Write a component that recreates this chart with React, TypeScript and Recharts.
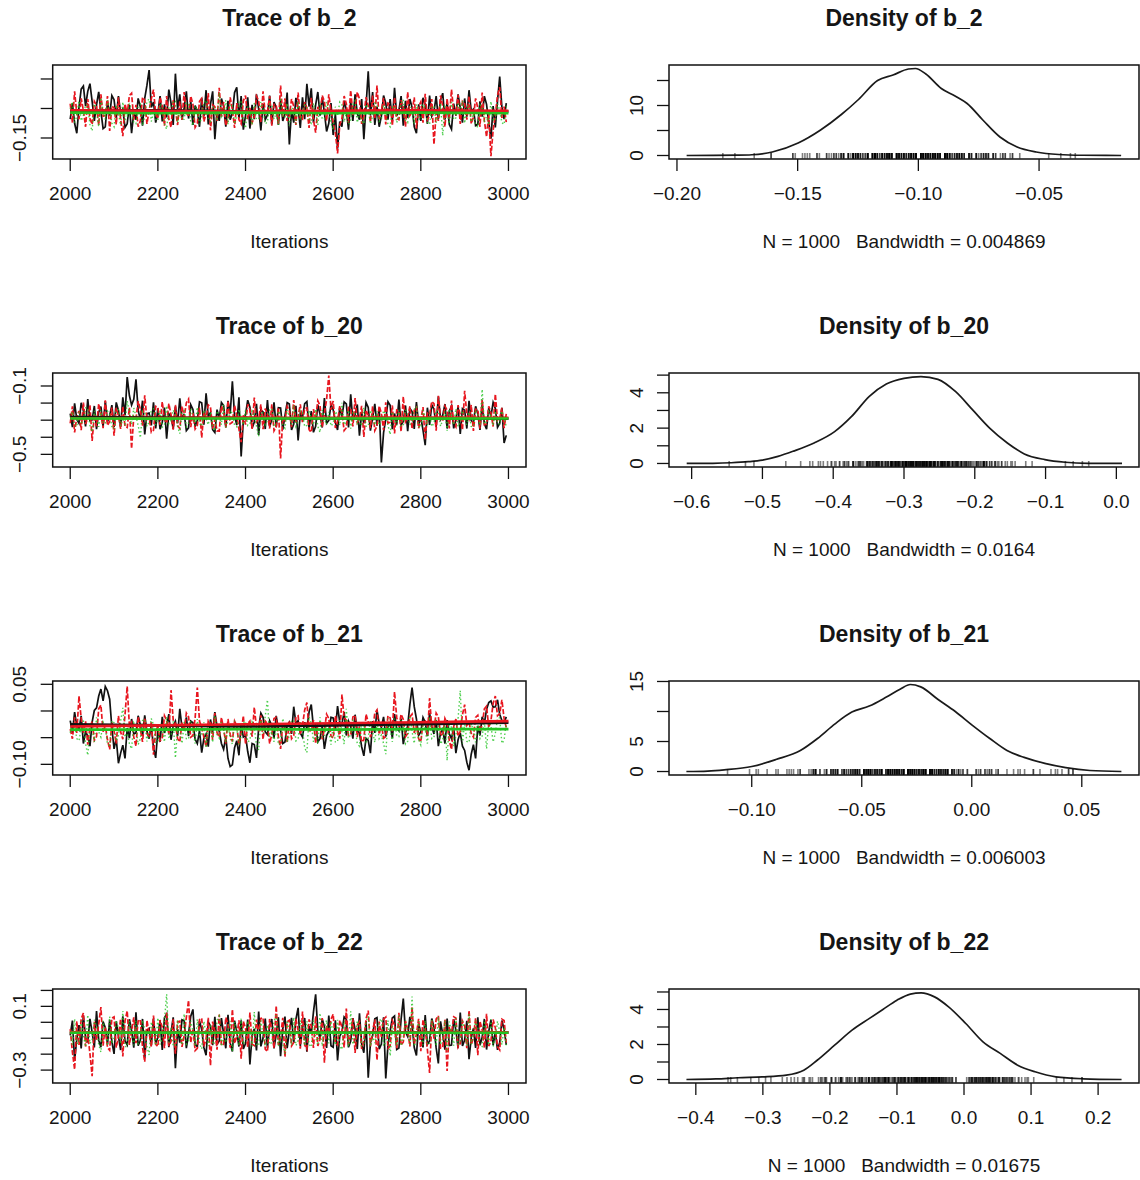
import React from 'react';
import { ComposedChart, Line, Scatter, XAxis, YAxis, ReferenceArea } from 'recharts';

const FONT = '"Liberation Sans", Arial, Helvetica, sans-serif';
const TXT = '#151515';
const BLACK = '#111111';
const RED = '#E8161F';
const GREEN = '#22C322';

// ---------- iterations (categories) ----------
// main samples at 2000, 2010, ... ; mid samples at 2005, 2015, ...
const ITER_START = 2000;
const ITER_STEP = 10;
const ITER_MID_OFFSET = 5;
const smoothIters = [2000, 2200, 2400, 2600, 2800, 3000];
const traceXTicks = [2000, 2200, 2400, 2600, 2800, 3000];
const traceXLabels = ['2000', '2200', '2400', '2600', '2800', '3000'];

// ---------- b_2 ----------
const b2Chain1 = [
  -0.118, -0.125, -0.098, -0.062, -0.071, -0.088, -0.094, -0.105, -0.131, -0.112,
  -0.085, -0.079, -0.101, -0.126, -0.142, -0.119, -0.097, -0.083, -0.035, -0.089,
  -0.108, -0.122, -0.115, -0.091, -0.041, -0.076, -0.099, -0.117, -0.128, -0.104,
  -0.082, -0.069, -0.093, -0.152, -0.121, -0.096, -0.087, -0.108, -0.064, -0.079,
  -0.112, -0.134, -0.118, -0.101, -0.092, -0.111, -0.127, -0.098, -0.085, -0.109,
  -0.161, -0.124, -0.099, -0.081, -0.058, -0.066, -0.094, -0.112, -0.107, -0.125,
  -0.145, -0.168, -0.131, -0.102, -0.088, -0.076, -0.119, -0.152, -0.037, -0.072,
  -0.097, -0.113, -0.091, -0.084, -0.065, -0.103, -0.129, -0.116, -0.098, -0.142,
  -0.121, -0.093, -0.078, -0.105, -0.118, -0.074, -0.089, -0.135, -0.112, -0.099,
  -0.083, -0.069, -0.101, -0.127, -0.114, -0.093, -0.151, -0.132, -0.046, -0.118,
];
const b2Chain1Mid = [
  -0.091, -0.142, -0.067, -0.096, -0.058, -0.121, -0.072, -0.134, -0.089, -0.078,
  -0.116, -0.108, -0.132, -0.094, -0.107, -0.083, -0.129, -0.061, -0.098, -0.124,
  -0.079, -0.093, -0.068, -0.128, -0.101, -0.119, -0.071, -0.088, -0.095, -0.131,
  -0.113, -0.127, -0.071, -0.104, -0.083, -0.131, -0.119, -0.073, -0.117, -0.136,
  -0.081, -0.094, -0.076, -0.137, -0.119, -0.078, -0.089, -0.128, -0.121, -0.073,
  -0.103, -0.082, -0.133, -0.118, -0.097, -0.124, -0.072, -0.081, -0.139, -0.091,
  -0.109, -0.122, -0.087, -0.136, -0.121, -0.108, -0.084, -0.096, -0.112, -0.128,
  -0.131, -0.078, -0.119, -0.122, -0.112, -0.079, -0.087, -0.084, -0.131, -0.093,
  -0.082, -0.126, -0.113, -0.079, -0.086, -0.119, -0.127, -0.092, -0.076, -0.124,
  -0.114, -0.104, -0.129, -0.088, -0.079, -0.124, -0.096, -0.087, -0.098, -0.091,
];
const b2Chain2 = [
  -0.092, -0.071, -0.118, -0.103, -0.084, -0.127, -0.095, -0.076, -0.112, -0.138,
  -0.099, -0.081, -0.147, -0.109, -0.074, -0.094, -0.121, -0.086, -0.103, -0.068,
  -0.117, -0.096, -0.079, -0.132, -0.101, -0.088, -0.072, -0.114, -0.093, -0.125,
  -0.083, -0.108, -0.137, -0.097, -0.065, -0.089, -0.119, -0.102, -0.091, -0.126,
  -0.078, -0.099, -0.115, -0.087, -0.071, -0.106, -0.129, -0.094, -0.061, -0.083,
  -0.112, -0.096, -0.073, -0.118, -0.099, -0.082, -0.141, -0.109, -0.088, -0.076,
  -0.123, -0.176, -0.117, -0.092, -0.069, -0.101, -0.084, -0.113, -0.095, -0.078,
  -0.061, -0.104, -0.127, -0.093, -0.081, -0.119, -0.098, -0.072, -0.106, -0.134,
  -0.089, -0.075, -0.112, -0.161, -0.121, -0.096, -0.083, -0.068, -0.109, -0.126,
  -0.092, -0.079, -0.115, -0.099, -0.073, -0.148, -0.181, -0.111, -0.064, -0.097,
];
const b2Chain2Mid = [
  -0.124, -0.109, -0.083, -0.131, -0.117, -0.088, -0.128, -0.113, -0.079, -0.096,
  -0.127, -0.118, -0.092, -0.078, -0.119, -0.131, -0.081, -0.126, -0.084, -0.109,
  -0.081, -0.129, -0.118, -0.086, -0.128, -0.119, -0.107, -0.079, -0.132, -0.088,
  -0.122, -0.074, -0.094, -0.121, -0.114, -0.129, -0.081, -0.133, -0.119, -0.087,
  -0.118, -0.124, -0.079, -0.123, -0.109, -0.079, -0.093, -0.126, -0.114, -0.121,
  -0.084, -0.128, -0.116, -0.089, -0.133, -0.119, -0.097, -0.078, -0.121, -0.104,
  -0.141, -0.128, -0.079, -0.124, -0.111, -0.072, -0.126, -0.081, -0.123, -0.117,
  -0.118, -0.082, -0.091, -0.129, -0.117, -0.086, -0.131, -0.112, -0.081, -0.097,
  -0.124, -0.119, -0.084, -0.107, -0.078, -0.131, -0.118, -0.104, -0.077, -0.088,
  -0.119, -0.126, -0.083, -0.131, -0.121, -0.109, -0.137, -0.078, -0.116, -0.123,
];
const b2Chain3 = [
  -0.101, -0.124, -0.087, -0.112, -0.095, -0.138, -0.106, -0.082, -0.119, -0.098,
  -0.131, -0.109, -0.089, -0.115, -0.102, -0.126, -0.093, -0.113, -0.084, -0.107,
  -0.121, -0.097, -0.135, -0.111, -0.088, -0.104, -0.118, -0.092, -0.129, -0.103,
  -0.114, -0.086, -0.122, -0.099, -0.073, -0.108, -0.127, -0.095, -0.112, -0.089,
  -0.133, -0.106, -0.091, -0.117, -0.101, -0.123, -0.094, -0.108, -0.082, -0.115,
  -0.129, -0.103, -0.088, -0.111, -0.097, -0.125, -0.106, -0.091, -0.118, -0.102,
  -0.136, -0.113, -0.094, -0.107, -0.121, -0.087, -0.109, -0.126, -0.098, -0.113,
  -0.092, -0.118, -0.104, -0.131, -0.096, -0.111, -0.085, -0.124, -0.107, -0.093,
  -0.119, -0.101, -0.127, -0.097, -0.112, -0.146, -0.105, -0.089, -0.116, -0.102,
  -0.125, -0.095, -0.109, -0.132, -0.098, -0.114, -0.088, -0.121, -0.103, -0.127,
];
const b2Chain3Mid = [
  -0.089, -0.113, -0.121, -0.094, -0.127, -0.092, -0.131, -0.104, -0.086, -0.125,
  -0.094, -0.128, -0.119, -0.091, -0.124, -0.097, -0.129, -0.088, -0.122, -0.118,
  -0.093, -0.126, -0.098, -0.087, -0.124, -0.119, -0.091, -0.123, -0.096, -0.127,
  -0.089, -0.118, -0.097, -0.121, -0.114, -0.086, -0.093, -0.126, -0.087, -0.121,
  -0.097, -0.128, -0.119, -0.089, -0.126, -0.092, -0.118, -0.128, -0.113, -0.091,
  -0.098, -0.126, -0.119, -0.094, -0.121, -0.091, -0.128, -0.118, -0.089, -0.124,
  -0.097, -0.089, -0.123, -0.127, -0.092, -0.124, -0.122, -0.093, -0.126, -0.091,
  -0.122, -0.094, -0.127, -0.098, -0.124, -0.093, -0.121, -0.097, -0.126, -0.117,
  -0.093, -0.124, -0.096, -0.124, -0.092, -0.097, -0.126, -0.119, -0.091, -0.087,
  -0.096, -0.123, -0.127, -0.094, -0.121, -0.128, -0.119, -0.092, -0.124, -0.096,
];
const b2Smooth1 = [-0.104, -0.103, -0.105, -0.106, -0.104, -0.105];
const b2Smooth2 = [-0.103, -0.104, -0.105, -0.104, -0.103, -0.104];
const b2Smooth3 = [-0.107, -0.108, -0.107, -0.108, -0.107, -0.108];
const b2DensX = [-0.196, -0.185, -0.175, -0.169, -0.1605, -0.1498, -0.1405, -0.1319, -0.1248, -0.1169, -0.1105, -0.1041, -0.1012, -0.0969, -0.0905, -0.0848, -0.0798, -0.0733, -0.0662, -0.0591, -0.0512, -0.0419, -0.032, -0.016];
const b2DensY = [0.0, 0.02, 0.06, 0.15, 0.7, 2.5, 5.1, 8.2, 11.2, 15.0, 16.1, 17.3, 17.4, 16.3, 13.4, 11.9, 10.4, 7.1, 3.7, 1.7, 0.7, 0.2, 0.05, 0.0];

// ---------- b_20 ----------
const b20Chain1 = [
  -0.262, -0.201, -0.318, -0.245, -0.176, -0.298, -0.352, -0.221, -0.188, -0.274,
  -0.339, -0.243, -0.166, -0.048, -0.212, -0.061, -0.297, -0.384, -0.258, -0.195,
  -0.231, -0.312, -0.408, -0.276, -0.219, -0.172, -0.263, -0.345, -0.237, -0.301,
  -0.198, -0.143, -0.256, -0.372, -0.291, -0.214, -0.187, -0.072, -0.329, -0.512,
  -0.268, -0.224, -0.311, -0.386, -0.252, -0.183, -0.297, -0.341, -0.229, -0.274,
  -0.206, -0.322, -0.418, -0.283, -0.191, -0.247, -0.336, -0.264, -0.171, -0.302,
  -0.238, -0.357, -0.279, -0.205, -0.149, -0.268, -0.391, -0.318, -0.226, -0.287,
  -0.332, -0.547, -0.296, -0.213, -0.261, -0.179, -0.308, -0.365, -0.249, -0.194,
  -0.283, -0.446, -0.327, -0.236, -0.162, -0.271, -0.349, -0.218, -0.298, -0.381,
  -0.242, -0.187, -0.314, -0.263, -0.209, -0.352, -0.278, -0.231, -0.319, -0.433,
];
const b20Chain1Mid = [
  -0.341, -0.296, -0.198, -0.337, -0.302, -0.217, -0.253, -0.336, -0.309, -0.212,
  -0.196, -0.338, -0.271, -0.156, -0.178, -0.243, -0.186, -0.262, -0.331, -0.348,
  -0.353, -0.226, -0.262, -0.351, -0.318, -0.297, -0.361, -0.209, -0.338, -0.192,
  -0.327, -0.281, -0.356, -0.238, -0.196, -0.342, -0.261, -0.274, -0.166, -0.301,
  -0.183, -0.347, -0.204, -0.241, -0.352, -0.338, -0.196, -0.227, -0.356, -0.198,
  -0.357, -0.216, -0.261, -0.203, -0.349, -0.371, -0.211, -0.343, -0.318, -0.209,
  -0.312, -0.226, -0.193, -0.342, -0.306, -0.208, -0.257, -0.197, -0.361, -0.204,
  -0.231, -0.373, -0.192, -0.352, -0.327, -0.329, -0.214, -0.231, -0.351, -0.326,
  -0.358, -0.227, -0.211, -0.339, -0.294, -0.206, -0.247, -0.348, -0.221, -0.232,
  -0.349, -0.302, -0.219, -0.357, -0.321, -0.229, -0.196, -0.342, -0.228, -0.389,
];
const b20Chain2 = [
  -0.318, -0.372, -0.246, -0.197, -0.289, -0.421, -0.336, -0.262, -0.184, -0.308,
  -0.391, -0.274, -0.219, -0.343, -0.467, -0.296, -0.236, -0.154, -0.281, -0.359,
  -0.224, -0.192, -0.317, -0.268, -0.211, -0.349, -0.283, -0.176, -0.258, -0.331,
  -0.402, -0.287, -0.223, -0.296, -0.364, -0.248, -0.187, -0.312, -0.271, -0.429,
  -0.326, -0.239, -0.168, -0.291, -0.353, -0.264, -0.207, -0.338, -0.524, -0.302,
  -0.246, -0.183, -0.279, -0.316, -0.228, -0.371, -0.293, -0.215, -0.262, -0.039,
  -0.188, -0.307, -0.256, -0.344, -0.232, -0.171, -0.289, -0.398, -0.273, -0.219,
  -0.334, -0.261, -0.196, -0.312, -0.378, -0.247, -0.162, -0.283, -0.351, -0.226,
  -0.298, -0.414, -0.269, -0.203, -0.157, -0.306, -0.242, -0.186, -0.339, -0.271,
  -0.128, -0.294, -0.363, -0.238, -0.179, -0.322, -0.256, -0.147, -0.291, -0.347,
];
const b20Chain2Mid = [
  -0.219, -0.281, -0.359, -0.322, -0.211, -0.268, -0.204, -0.347, -0.331, -0.226,
  -0.228, -0.351, -0.336, -0.227, -0.279, -0.189, -0.332, -0.296, -0.371, -0.219,
  -0.327, -0.298, -0.203, -0.356, -0.332, -0.218, -0.198, -0.341, -0.352, -0.226,
  -0.251, -0.211, -0.349, -0.363, -0.217, -0.342, -0.321, -0.214, -0.353, -0.271,
  -0.208, -0.351, -0.311, -0.207, -0.232, -0.349, -0.362, -0.226, -0.289, -0.219,
  -0.341, -0.312, -0.207, -0.231, -0.356, -0.236, -0.187, -0.339, -0.178, -0.239,
  -0.346, -0.218, -0.361, -0.226, -0.337, -0.314, -0.216, -0.241, -0.347, -0.361,
  -0.216, -0.359, -0.318, -0.214, -0.241, -0.366, -0.309, -0.219, -0.243, -0.347,
  -0.224, -0.259, -0.191, -0.361, -0.288, -0.217, -0.348, -0.318, -0.212, -0.356,
  -0.266, -0.211, -0.236, -0.349, -0.327, -0.219, -0.337, -0.302, -0.228, -0.263,
];
const b20Chain3 = [
  -0.284, -0.331, -0.252, -0.309, -0.227, -0.368, -0.291, -0.243, -0.316, -0.269,
  -0.352, -0.238, -0.297, -0.188, -0.325, -0.276, -0.403, -0.259, -0.312, -0.234,
  -0.288, -0.341, -0.216, -0.302, -0.267, -0.379, -0.245, -0.318, -0.281, -0.224,
  -0.336, -0.291, -0.253, -0.362, -0.277, -0.209, -0.305, -0.264, -0.339, -0.286,
  -0.241, -0.323, -0.273, -0.396, -0.258, -0.299, -0.231, -0.314, -0.268, -0.347,
  -0.279, -0.212, -0.306, -0.257, -0.331, -0.289, -0.236, -0.372, -0.294, -0.251,
  -0.319, -0.272, -0.198, -0.308, -0.349, -0.263, -0.287, -0.226, -0.335, -0.281,
  -0.248, -0.311, -0.267, -0.384, -0.293, -0.239, -0.326, -0.271, -0.303, -0.219,
  -0.344, -0.282, -0.257, -0.317, -0.244, -0.298, -0.361, -0.274, -0.232, -0.309,
  -0.286, -0.253, -0.338, -0.265, -0.119, -0.301, -0.277, -0.246, -0.323, -0.289,
];
const b20Chain3Mid = [
  -0.251, -0.338, -0.314, -0.228, -0.331, -0.246, -0.339, -0.318, -0.247, -0.336,
  -0.246, -0.334, -0.322, -0.261, -0.229, -0.331, -0.248, -0.336, -0.241, -0.327,
  -0.244, -0.329, -0.321, -0.241, -0.336, -0.251, -0.338, -0.232, -0.329, -0.318,
  -0.241, -0.327, -0.338, -0.246, -0.327, -0.341, -0.241, -0.329, -0.236, -0.328,
  -0.331, -0.246, -0.334, -0.259, -0.327, -0.241, -0.338, -0.246, -0.331, -0.238,
  -0.327, -0.336, -0.244, -0.338, -0.246, -0.328, -0.337, -0.241, -0.326, -0.334,
  -0.248, -0.331, -0.327, -0.241, -0.251, -0.326, -0.334, -0.336, -0.242, -0.329,
  -0.331, -0.244, -0.329, -0.251, -0.331, -0.338, -0.238, -0.328, -0.237, -0.336,
  -0.241, -0.329, -0.338, -0.243, -0.336, -0.248, -0.236, -0.329, -0.338, -0.244,
  -0.327, -0.336, -0.241, -0.329, -0.324, -0.248, -0.333, -0.319, -0.247, -0.338,
];
const b20Smooth1 = [-0.281, -0.285, -0.288, -0.290, -0.289, -0.291];
const b20Smooth2 = [-0.289, -0.287, -0.285, -0.286, -0.284, -0.286];
const b20Smooth3 = [-0.290, -0.291, -0.290, -0.290, -0.291, -0.290];
const b20DensX = [-0.607, -0.57, -0.544, -0.52, -0.5, -0.478, -0.456, -0.427, -0.398, -0.374, -0.349, -0.325, -0.3, -0.276, -0.252, -0.227, -0.203, -0.179, -0.154, -0.13, -0.101, -0.072, -0.04, 0.008];
const b20DensY = [0.0, 0.01, 0.04, 0.1, 0.19, 0.4, 0.7, 1.16, 1.8, 2.66, 3.8, 4.5, 4.82, 4.92, 4.76, 4.06, 3.03, 2.0, 1.16, 0.54, 0.22, 0.07, 0.01, 0.0];

// ---------- b_21 ----------
const b21Chain1 = [
  -0.018, -0.002, -0.035, -0.061, -0.047, -0.021, 0.006, 0.041, 0.046, 0.022,
  -0.071, -0.098, -0.064, -0.032, -0.015, -0.041, -0.026, -0.008, -0.052, -0.069,
  -0.037, -0.011, -0.029, -0.054, -0.019, 0.004, -0.033, -0.047, -0.022, -0.061,
  -0.078, -0.043, -0.016, -0.002, -0.038, -0.072, -0.089, -0.101, -0.056, -0.024,
  -0.046, -0.097, -0.063, -0.031, -0.012, -0.044, -0.027, -0.009, -0.036, -0.058,
  -0.021, 0.008, -0.018, -0.049, -0.033, 0.012, -0.026, -0.052, -0.071, -0.038,
  -0.013, 0.009, -0.024, -0.046, -0.029, -0.007, -0.041, -0.084, -0.055, -0.019,
  0.002, -0.031, -0.048, -0.023, -0.006, -0.037, -0.062, -0.028, 0.044, -0.015,
  -0.039, -0.021, -0.004, -0.043, -0.066, -0.034, -0.017, -0.052, -0.079, -0.041,
  -0.074, -0.111, -0.063, -0.028, -0.011, 0.003, 0.019, 0.008, -0.006, -0.022,
];
const b21Chain1Mid = [
  -0.041, -0.028, -0.009, -0.039, -0.066, 0.001, 0.028, 0.019, 0.038, -0.031,
  -0.052, -0.079, -0.089, -0.051, -0.043, -0.009, -0.047, -0.038, -0.027, -0.088,
  -0.058, -0.041, -0.006, -0.028, -0.047, -0.031, -0.012, -0.019, -0.053, -0.037,
  -0.051, -0.067, -0.039, -0.029, -0.061, -0.049, -0.104, -0.069, -0.083, -0.049,
  -0.076, -0.061, -0.088, -0.004, -0.039, -0.018, -0.051, -0.034, -0.061, -0.027,
  -0.043, -0.024, -0.041, -0.021, -0.002, -0.031, -0.058, -0.029, -0.046, -0.012,
  -0.036, -0.021, -0.002, -0.019, -0.052, -0.038, -0.067, -0.051, -0.079, -0.041,
  -0.024, -0.011, -0.029, -0.051, -0.033, -0.014, -0.041, 0.012, 0.008, -0.046,
  -0.012, -0.047, -0.029, -0.017, -0.041, -0.061, -0.043, -0.031, -0.054, -0.066,
  -0.096, -0.081, -0.089, -0.046, -0.023, 0.016, 0.007, 0.021, -0.018, -0.011,
];
const b21Chain2 = [
  -0.034, -0.012, 0.028, -0.041, -0.063, -0.019, -0.048, 0.011, -0.027, -0.072,
  -0.038, -0.009, -0.053, 0.046, -0.021, -0.066, -0.035, -0.014, -0.047, -0.082,
  -0.029, -0.051, -0.018, 0.039, -0.024, -0.058, -0.037, -0.011, -0.046, 0.044,
  -0.031, -0.067, -0.022, -0.004, -0.049, -0.033, -0.015, -0.057, -0.028, -0.041,
  -0.062, -0.019, 0.007, -0.036, -0.053, -0.024, -0.044, -0.012, -0.071, -0.032,
  -0.018, -0.046, -0.009, -0.027, 0.016, -0.039, -0.061, -0.022, -0.035, -0.014,
  -0.051, -0.026, 0.031, -0.017, -0.043, -0.008, -0.029, -0.054, -0.021, -0.037,
  0.002, -0.025, -0.048, -0.013, 0.036, -0.031, -0.016, -0.042, -0.006, -0.027,
  -0.058, -0.019, 0.024, -0.034, -0.011, -0.047, -0.023, -0.072, -0.015, -0.038,
  0.012, -0.021, -0.049, -0.008, -0.026, 0.009, -0.018, 0.028, -0.005, -0.014,
];
const b21Chain2Mid = [
  -0.052, -0.041, -0.014, -0.019, -0.031, -0.055, 0.004, -0.039, -0.054, -0.021,
  -0.061, -0.039, -0.007, -0.028, -0.049, -0.011, -0.058, -0.043, -0.021, -0.037,
  -0.056, -0.009, -0.044, -0.017, -0.052, -0.021, -0.004, -0.049, -0.013, -0.019,
  -0.049, -0.018, -0.054, -0.041, -0.012, -0.061, -0.044, -0.019, -0.063, -0.009,
  -0.024, -0.048, -0.031, -0.008, -0.019, -0.061, -0.014, -0.048, -0.023, -0.059,
  -0.052, -0.011, -0.044, 0.002, -0.036, -0.017, -0.024, -0.053, -0.006, -0.047,
  -0.009, -0.052, -0.013, -0.046, -0.011, -0.049, -0.058, -0.006, -0.049, -0.004,
  -0.044, -0.051, -0.009, -0.038, -0.012, -0.006, -0.048, -0.011, -0.041, -0.052,
  -0.021, -0.046, -0.031, -0.004, -0.043, -0.014, -0.056, -0.029, -0.047, -0.007,
  -0.027, -0.042, -0.012, -0.039, 0.004, -0.031, 0.014, -0.009, 0.021, -0.031,
];
const b21Chain3 = [
  -0.041, -0.027, -0.056, -0.018, -0.083, -0.035, -0.012, -0.049, -0.031, -0.064,
  -0.022, -0.045, 0.006, -0.038, -0.071, -0.029, -0.052, -0.016, -0.043, -0.026,
  -0.059, -0.034, -0.011, -0.047, -0.088, -0.032, -0.021, -0.053, -0.037, -0.015,
  -0.044, -0.069, -0.028, -0.009, -0.051, -0.036, -0.024, -0.062, -0.033, -0.047,
  -0.019, -0.055, -0.031, -0.073, -0.042, 0.021, -0.038, -0.025, -0.061, -0.029,
  -0.046, -0.017, -0.053, -0.034, -0.078, -0.022, -0.041, -0.012, -0.049, -0.036,
  -0.027, -0.058, -0.039, 0.004, -0.044, -0.031, -0.066, -0.025, -0.052, -0.037,
  -0.019, -0.045, -0.081, -0.033, -0.014, -0.048, -0.029, -0.057, -0.038, -0.023,
  -0.064, -0.035, -0.011, -0.049, -0.027, -0.054, -0.093, -0.031, -0.046, 0.038,
  -0.022, -0.059, -0.036, -0.018, -0.047, -0.071, -0.028, -0.042, -0.013, -0.055,
];
const b21Chain3Mid = [
  -0.021, -0.052, -0.031, -0.061, -0.029, -0.058, -0.039, -0.021, -0.062, -0.018,
  -0.056, -0.019, -0.049, -0.061, -0.022, -0.063, -0.018, -0.057, -0.014, -0.059,
  -0.022, -0.058, -0.049, -0.019, -0.031, -0.061, -0.052, -0.019, -0.061, -0.046,
  -0.021, -0.023, -0.059, -0.044, -0.021, -0.059, -0.052, -0.018, -0.063, -0.022,
  -0.058, -0.021, -0.064, -0.017, -0.009, -0.049, -0.058, -0.063, -0.014, -0.059,
  -0.019, -0.056, -0.021, -0.069, -0.011, -0.058, -0.062, -0.049, -0.021, -0.063,
  -0.058, -0.017, -0.062, -0.051, -0.016, -0.061, -0.019, -0.058, -0.017, -0.059,
  -0.052, -0.061, -0.014, -0.058, -0.047, -0.017, -0.062, -0.009, -0.061, -0.054,
  -0.019, -0.061, -0.052, -0.016, -0.062, -0.019, -0.018, -0.066, -0.014, -0.061,
  -0.057, -0.024, -0.059, -0.052, -0.019, -0.021, -0.058, -0.014, -0.061, -0.021,
];
const b21Smooth1 = [-0.025, -0.027, -0.029, -0.027, -0.025, -0.022];
const b21Smooth2 = [-0.029, -0.027, -0.025, -0.023, -0.021, -0.019];
const b21Smooth3 = [-0.035, -0.035, -0.034, -0.035, -0.034, -0.034];
const b21DensX = [-0.1297, -0.12, -0.1125, -0.1, -0.089, -0.0779, -0.0701, -0.0623, -0.0545, -0.0466, -0.0388, -0.0326, -0.0279, -0.0232, -0.0153, -0.0075, 0.0003, 0.0082, 0.016, 0.0238, 0.0332, 0.0427, 0.0537, 0.068];
const b21DensY = [0.0, 0.08, 0.28, 0.83, 2.0, 3.5, 5.5, 7.9, 9.9, 10.9, 12.4, 13.7, 14.5, 14.1, 12.0, 10.0, 7.7, 5.5, 3.5, 2.35, 1.35, 0.65, 0.17, 0.0];

// ---------- b_22 ----------
const b22Chain1 = [
  -0.082, -0.241, -0.018, 0.042, -0.121, -0.063, 0.071, -0.156, -0.034, 0.015,
  -0.198, -0.087, 0.038, -0.142, -0.051, 0.063, -0.113, -0.226, -0.039, 0.024,
  -0.095, -0.174, 0.052, -0.061, -0.288, -0.128, 0.009, -0.072, 0.081, -0.152,
  -0.046, -0.207, -0.023, 0.034, -0.117, -0.071, 0.047, -0.183, -0.058, 0.012,
  -0.134, -0.264, -0.041, 0.068, -0.099, -0.162, 0.021, -0.078, -0.213, 0.036,
  -0.052, -0.129, 0.091, -0.037, -0.184, -0.069, 0.176, -0.104, -0.027, 0.043,
  -0.156, -0.239, -0.061, 0.018, -0.118, -0.044, 0.057, -0.191, -0.348, -0.083,
  0.029, -0.136, -0.352, -0.054, 0.039, -0.162, 0.149, -0.089, -0.021, -0.208,
  -0.067, 0.046, -0.117, -0.032, -0.258, -0.076, 0.024, -0.143, -0.049, 0.061,
  -0.112, -0.231, -0.038, 0.032, -0.094, -0.171, 0.016, -0.063, -0.127, -0.045,
];
const b22Chain1Mid = [
  0.011, -0.102, -0.164, -0.097, 0.021, -0.158, -0.112, 0.004, -0.139, -0.121,
  0.006, -0.174, -0.118, 0.019, -0.159, -0.147, 0.021, -0.052, -0.147, -0.132,
  0.014, 0.028, -0.156, 0.031, -0.043, 0.016, -0.162, 0.038, -0.141, 0.009,
  -0.158, 0.002, -0.143, -0.138, 0.026, -0.163, -0.131, 0.011, -0.152, -0.167,
  0.017, -0.082, -0.176, -0.151, 0.024, -0.021, -0.164, 0.032, -0.041, -0.162,
  0.028, 0.019, -0.149, 0.027, -0.023, 0.064, -0.052, 0.021, -0.161, -0.147,
  0.012, -0.087, 0.034, -0.157, 0.026, -0.168, -0.137, 0.008, -0.129, 0.022,
  -0.168, 0.031, -0.142, 0.027, -0.171, 0.019, -0.061, 0.034, -0.158, -0.009,
  -0.158, -0.139, 0.024, -0.161, 0.006, -0.172, -0.146, 0.019, -0.163, -0.149,
  0.009, -0.098, -0.161, -0.144, 0.021, -0.057, -0.144, -0.173, 0.011, -0.142,
];
const b22Chain2 = [
  -0.043, -0.296, -0.142, 0.058, -0.074, -0.338, -0.112, 0.096, -0.027, -0.176,
  0.034, -0.089, -0.214, 0.072, -0.053, -0.131, 0.018, -0.248, -0.066, 0.043,
  -0.152, -0.031, 0.064, -0.119, -0.197, 0.007, -0.083, 0.138, -0.041, -0.163,
  0.026, -0.104, -0.271, -0.058, 0.049, -0.137, -0.012, 0.082, -0.088, -0.229,
  -0.036, 0.061, -0.146, -0.071, 0.029, -0.184, -0.049, 0.104, -0.093, -0.217,
  0.013, -0.126, -0.052, 0.067, -0.169, -0.024, 0.038, -0.107, -0.253, -0.064,
  0.051, -0.141, -0.029, 0.086, -0.078, -0.192, 0.004, -0.116, 0.073, -0.057,
  -0.238, -0.091, 0.032, -0.149, -0.018, 0.059, -0.124, -0.046, 0.094, -0.073,
  -0.181, -0.037, -0.318, -0.102, 0.041, -0.158, -0.306, -0.069, 0.027, -0.133,
  -0.021, 0.076, -0.098, -0.206, -0.047, 0.053, -0.119, -0.034, -0.174, 0.011,
];
const b22Chain2Mid = [
  -0.187, 0.006, 0.021, -0.152, -0.198, 0.004, -0.011, -0.147, -0.159, 0.027,
  -0.158, 0.022, 0.009, -0.142, 0.031, 0.007, -0.157, 0.012, -0.153, -0.138,
  0.014, -0.162, -0.149, 0.021, 0.003, -0.154, 0.032, -0.128, -0.177, 0.017,
  -0.151, 0.028, 0.004, -0.172, -0.146, 0.031, -0.159, -0.133, 0.012, 0.006,
  -0.156, -0.138, 0.017, 0.024, -0.168, 0.021, -0.163, -0.142, 0.028, 0.004,
  -0.148, 0.021, -0.166, -0.142, 0.018, -0.161, -0.149, 0.026, -0.021, 0.019,
  -0.127, 0.013, -0.158, -0.139, 0.024, -0.018, -0.167, 0.022, -0.151, 0.017,
  0.004, 0.019, -0.162, 0.011, -0.163, -0.144, 0.008, -0.151, -0.138, 0.022,
  0.017, -0.171, 0.012, 0.021, -0.162, 0.018, -0.028, 0.034, -0.156, 0.009,
  -0.163, -0.142, 0.027, 0.006, -0.161, -0.149, 0.017, -0.153, 0.019, -0.127,
];
const b22Chain3 = [
  -0.058, 0.021, -0.134, -0.079, 0.047, -0.112, -0.026, -0.187, -0.064, 0.036,
  -0.098, -0.041, 0.071, -0.153, -0.083, 0.012, -0.121, -0.047, -0.205, -0.069,
  0.028, -0.104, 0.176, -0.033, -0.142, -0.087, 0.053, -0.118, -0.056, 0.019,
  -0.167, -0.074, -0.012, -0.128, 0.039, -0.093, -0.049, -0.184, -0.062, 0.024,
  -0.109, -0.038, 0.065, -0.146, -0.081, -0.017, -0.126, 0.044, -0.071, -0.198,
  -0.052, 0.031, -0.114, -0.066, 0.008, -0.155, -0.091, 0.058, -0.037, -0.132,
  -0.075, 0.016, -0.171, -0.048, 0.069, -0.106, -0.029, -0.142, 0.037, -0.084,
  -0.059, 0.022, -0.123, -0.211, -0.067, 0.043, -0.095, -0.042, 0.161, -0.113,
  -0.078, 0.011, -0.138, -0.056, 0.034, -0.102, -0.183, -0.061, 0.027, -0.117,
  -0.044, 0.052, -0.089, -0.036, -0.152, -0.071, 0.018, -0.097, -0.058, -0.031,
];
const b22Chain3Mid = [
  -0.142, -0.131, 0.008, -0.153, -0.134, 0.016, -0.139, 0.011, -0.147, -0.134,
  0.012, -0.137, -0.152, 0.009, -0.144, -0.136, 0.012, -0.151, 0.003, -0.146,
  -0.139, 0.011, -0.128, -0.149, 0.014, -0.142, -0.137, 0.009, -0.151, -0.133,
  0.006, -0.149, -0.138, 0.013, -0.151, -0.129, 0.008, 0.004, -0.147, -0.138,
  0.009, -0.152, -0.141, 0.011, -0.148, -0.139, 0.006, -0.149, -0.136, 0.011,
  -0.143, -0.146, 0.012, -0.147, -0.139, 0.011, -0.143, -0.149, 0.013, 0.006,
  -0.142, -0.147, 0.009, -0.153, -0.138, 0.012, -0.147, 0.006, -0.151, -0.131,
  0.009, -0.149, 0.011, -0.022, -0.146, -0.149, 0.012, -0.138, -0.151, 0.008,
  -0.144, -0.138, 0.014, -0.149, -0.139, 0.011, 0.004, -0.147, -0.142, 0.008,
  -0.147, -0.139, 0.012, -0.148, 0.009, -0.143, -0.152, 0.007, -0.141, -0.149,
];
const b22Smooth1 = [-0.066, -0.064, -0.063, -0.062, -0.064, -0.063];
const b22Smooth2 = [-0.062, -0.064, -0.063, -0.065, -0.064, -0.063];
const b22Smooth3 = [-0.066, -0.065, -0.066, -0.065, -0.066, -0.066];
const b22DensX = [-0.414, -0.37, -0.337, -0.301, -0.265, -0.239, -0.219, -0.193, -0.167, -0.141, -0.121, -0.1, -0.08, -0.064, -0.044, -0.023, 0.0026, 0.0283, 0.054, 0.08, 0.106, 0.137, 0.178, 0.235];
const b22DensY = [0.0, 0.03, 0.1, 0.15, 0.25, 0.53, 1.1, 1.96, 2.82, 3.49, 4.0, 4.53, 4.88, 4.95, 4.72, 4.15, 3.2, 2.15, 1.49, 0.82, 0.44, 0.15, 0.04, 0.0];

// ---------- names, axes, labels ----------
const paramNames = ['b_2', 'b_20', 'b_21', 'b_22'];
const bandwidths = ['0.004869', '0.0164', '0.006003', '0.01675'];
const sampleSize = 1000;

const traceYTicks = [
  [-0.15, -0.10, -0.05],
  [-0.5, -0.4, -0.3, -0.2, -0.1],
  [-0.10, -0.05, 0.0, 0.05],
  [-0.3, -0.2, -0.1, 0.0, 0.1, 0.2],
];
const traceYLabels = [
  ['\u22120.15', '', ''],
  ['\u22120.5', '', '', '', '\u22120.1'],
  ['\u22120.10', '', '', '0.05'],
  ['\u22120.3', '', '', '', '0.1', ''],
];
const densXTicks = [
  [-0.20, -0.15, -0.10, -0.05],
  [-0.6, -0.5, -0.4, -0.3, -0.2, -0.1, 0.0],
  [-0.10, -0.05, 0.0, 0.05],
  [-0.4, -0.3, -0.2, -0.1, 0.0, 0.1, 0.2],
];
const densXLabels = [
  ['\u22120.20', '\u22120.15', '\u22120.10', '\u22120.05'],
  ['\u22120.6', '\u22120.5', '\u22120.4', '\u22120.3', '\u22120.2', '\u22120.1', '0.0'],
  ['\u22120.10', '\u22120.05', '0.00', '0.05'],
  ['\u22120.4', '\u22120.3', '\u22120.2', '\u22120.1', '0.0', '0.1', '0.2'],
];
const densYTicks = [
  [0, 5, 10, 15],
  [0, 1, 2, 3, 4, 5],
  [0, 5, 10, 15],
  [0, 1, 2, 3, 4, 5],
];
const densYLabels = [
  ['0', '', '10', ''],
  ['0', '', '2', '', '4', ''],
  ['0', '5', '', '15'],
  ['0', '', '2', '', '4', ''],
];

// axis ranges (R's 4% extended usr ranges)
const traceXDomain: [number, number] = [1960, 3040];
const traceYDomains: [number, number][] = [
  [-0.1856, -0.0263],
  [-0.574, -0.024],
  [-0.120, 0.0562],
  [-0.381, 0.209],
];
const densXDomains: [number, number][] = [
  [-0.2033, -0.0086],
  [-0.632, 0.032],
  [-0.1376, 0.076],
  [-0.440, 0.261],
];
const densYDomains: [number, number][] = [
  [-0.70, 18.1],
  [-0.2, 5.12],
  [-0.58, 15.08],
  [-0.2, 5.17],
];

const chains = [
  [b2Chain1, b2Chain2, b2Chain3],
  [b20Chain1, b20Chain2, b20Chain3],
  [b21Chain1, b21Chain2, b21Chain3],
  [b22Chain1, b22Chain2, b22Chain3],
];
const chainsMid = [
  [b2Chain1Mid, b2Chain2Mid, b2Chain3Mid],
  [b20Chain1Mid, b20Chain2Mid, b20Chain3Mid],
  [b21Chain1Mid, b21Chain2Mid, b21Chain3Mid],
  [b22Chain1Mid, b22Chain2Mid, b22Chain3Mid],
];
const smooths = [
  [b2Smooth1, b2Smooth2, b2Smooth3],
  [b20Smooth1, b20Smooth2, b20Smooth3],
  [b21Smooth1, b21Smooth2, b21Smooth3],
  [b22Smooth1, b22Smooth2, b22Smooth3],
];
const densXs = [b2DensX, b20DensX, b21DensX, b22DensX];
const densYs = [b2DensY, b20DensY, b21DensY, b22DensY];

// ---------- layout ----------
const ROW_STEP = 308;
const BOX_TOP0 = 65;
const BOX_H = 94;
const MT = 20;
const XH = 48;
const TICK = 12;

const TRACE_LEFT = 0;
const TRACE_ML = 52.7;
const TRACE_W = 473.3;
const TRACE_MR = 14;
const DENS_LEFT = 600;
const DENS_ML = 69;
const DENS_W = 470;
const DENS_MR = 1;

const chainStyles = [
  { stroke: BLACK, width: 1.7, dash: undefined as string | undefined, opacity: 1 },
  { stroke: RED, width: 1.7, dash: '5 2', opacity: 1 },
  { stroke: GREEN, width: 1.4, dash: '1.5 2.5', opacity: 0.8 },
];

const XTick = (props: any) => {
  const { x, y, index, labels } = props;
  const lab = labels[index];
  if (!lab) return <g />;
  return (
    <text x={x} y={y + 29} textAnchor="middle" fontSize={19} fontFamily={FONT} fill={TXT}>
      {lab}
    </text>
  );
};

const YTick = (props: any) => {
  const { x, y, index, labels } = props;
  const lab = labels[index];
  if (!lab) return <g />;
  const ax = x - 14.2;
  return (
    <text
      x={ax}
      y={y}
      transform={`rotate(-90 ${ax} ${y})`}
      textAnchor="middle"
      fontSize={19}
      fontFamily={FONT}
      fill={TXT}
    >
      {lab}
    </text>
  );
};

const RugMark = (props: any) => {
  const { cx, cy } = props;
  if (cx == null || cy == null) return <g />;
  return <line x1={cx} x2={cx} y1={cy - 0.5} y2={cy - 6} stroke="#000" strokeOpacity={0.5} strokeWidth={1.6} />;
};

function Frame(props: {
  left: number;
  boxTop: number;
  ml: number;
  w: number;
  mr: number;
  xDomain: [number, number];
  xTicks: number[];
  xLabels: string[];
  yDomain: [number, number];
  yTicks: number[];
  yLabels: string[];
  children: React.ReactNode;
}) {
  const { left, boxTop, ml, w, mr, xDomain, xTicks, xLabels, yDomain, yTicks, yLabels, children } = props;
  return (
    <div style={{ position: 'absolute', left, top: boxTop - MT }}>
      <ComposedChart
        width={ml + w + mr}
        height={MT + BOX_H + XH}
        margin={{ top: MT, right: mr, left: 0, bottom: 0 }}
      >
        <XAxis
          type="number"
          dataKey="x"
          domain={xDomain}
          ticks={xTicks}
          allowDataOverflow
          interval={0}
          tickSize={TICK}
          tickMargin={0}
          axisLine={false}
          tickLine={{ stroke: BLACK, strokeWidth: 1.3 }}
          height={XH}
          tick={(p: any) => <XTick {...p} labels={xLabels} />}
        />
        <YAxis
          type="number"
          dataKey="y"
          domain={yDomain}
          ticks={yTicks}
          allowDataOverflow
          interval={0}
          tickSize={TICK}
          tickMargin={0}
          axisLine={false}
          tickLine={{ stroke: BLACK, strokeWidth: 1.3 }}
          width={ml}
          tick={(p: any) => <YTick {...p} labels={yLabels} />}
        />
        <ReferenceArea
          x1={xDomain[0]}
          x2={xDomain[1]}
          y1={yDomain[0]}
          y2={yDomain[1]}
          fill="none"
          fillOpacity={0}
          stroke={BLACK}
          strokeWidth={1.5}
          ifOverflow="visible"
        />
        {children}
      </ComposedChart>
    </div>
  );
}

function chainSeries(main: number[], mid: number[]) {
  const out: { x: number; y: number }[] = [];
  main.forEach((v, i) => {
    out.push({ x: ITER_START + i * ITER_STEP, y: v });
    out.push({ x: ITER_START + i * ITER_STEP + ITER_MID_OFFSET, y: mid[i] });
  });
  return out;
}

function TracePanel({ row }: { row: number }) {
  const boxTop = BOX_TOP0 + ROW_STEP * row;
  const series = chains[row].map((vals, c) => chainSeries(vals, chainsMid[row][c]));
  const smooth = smooths[row].map((vals) => vals.map((v, i) => ({ x: smoothIters[i], y: v })));
  return (
    <Frame
      left={TRACE_LEFT}
      boxTop={boxTop}
      ml={TRACE_ML}
      w={TRACE_W}
      mr={TRACE_MR}
      xDomain={traceXDomain}
      xTicks={traceXTicks}
      xLabels={traceXLabels}
      yDomain={traceYDomains[row]}
      yTicks={traceYTicks[row]}
      yLabels={traceYLabels[row]}
    >
      {series.map((d, c) => (
        <Line
          key={`chain${c}`}
          data={d}
          dataKey="y"
          type="linear"
          stroke={chainStyles[c].stroke}
          strokeWidth={chainStyles[c].width}
          strokeDasharray={chainStyles[c].dash}
          strokeOpacity={chainStyles[c].opacity}
          dot={false}
          activeDot={false}
          isAnimationActive={false}
        />
      ))}
      {smooth.map((d, c) => (
        <Line
          key={`smooth${c}`}
          data={d}
          dataKey="y"
          type="monotone"
          stroke={chainStyles[c].stroke}
          strokeWidth={2.6}
          dot={false}
          activeDot={false}
          isAnimationActive={false}
        />
      ))}
    </Frame>
  );
}

function DensityPanel({ row }: { row: number }) {
  const boxTop = BOX_TOP0 + ROW_STEP * row;
  const yDom = densYDomains[row];
  const curve = densXs[row].map((x, i) => ({ x, y: densYs[row][i] }));
  const rug = chains[row].flat().map((v) => ({ x: v, y: yDom[0] }));
  return (
    <Frame
      left={DENS_LEFT}
      boxTop={boxTop}
      ml={DENS_ML}
      w={DENS_W}
      mr={DENS_MR}
      xDomain={densXDomains[row]}
      xTicks={densXTicks[row]}
      xLabels={densXLabels[row]}
      yDomain={yDom}
      yTicks={densYTicks[row]}
      yLabels={densYLabels[row]}
    >
      <Scatter data={rug} shape={(p: any) => <RugMark {...p} />} isAnimationActive={false} />
      <Line
        data={curve}
        dataKey="y"
        type="monotone"
        stroke="#1a1a1a"
        strokeWidth={1.7}
        dot={false}
        activeDot={false}
        isAnimationActive={false}
      />
    </Frame>
  );
}

export default function App() {
  const traceCx = TRACE_LEFT + TRACE_ML + TRACE_W / 2;
  const densCx = DENS_LEFT + DENS_ML + DENS_W / 2;
  return (
    <div style={{ position: 'absolute', left: 0, top: 0, width: 1140, height: 1180, background: '#fff', overflow: 'hidden' }}>
      {paramNames.map((_, r) => (
        <React.Fragment key={r}>
          <TracePanel row={r} />
          <DensityPanel row={r} />
        </React.Fragment>
      ))}
      <svg width={1140} height={1180} style={{ position: 'absolute', left: 0, top: 0, pointerEvents: 'none' }}>
        {paramNames.map((name, r) => {
          const dy = ROW_STEP * r;
          return (
            <g key={name} fontFamily={FONT} fill={TXT}>
              <text x={traceCx} y={25.5 + dy} textAnchor="middle" fontSize={23} fontWeight="bold">
                {`Trace of ${name}`}
              </text>
              <text x={densCx} y={25.5 + dy} textAnchor="middle" fontSize={23} fontWeight="bold">
                {`Density of ${name}`}
              </text>
              <text x={traceCx} y={247.5 + dy} textAnchor="middle" fontSize={19}>
                Iterations
              </text>
              <text x={densCx} y={247.5 + dy} textAnchor="middle" fontSize={19} style={{ whiteSpace: 'pre' }}>
                {`N = ${sampleSize}   Bandwidth = ${bandwidths[r]}`}
              </text>
            </g>
          );
        })}
      </svg>
    </div>
  );
}
